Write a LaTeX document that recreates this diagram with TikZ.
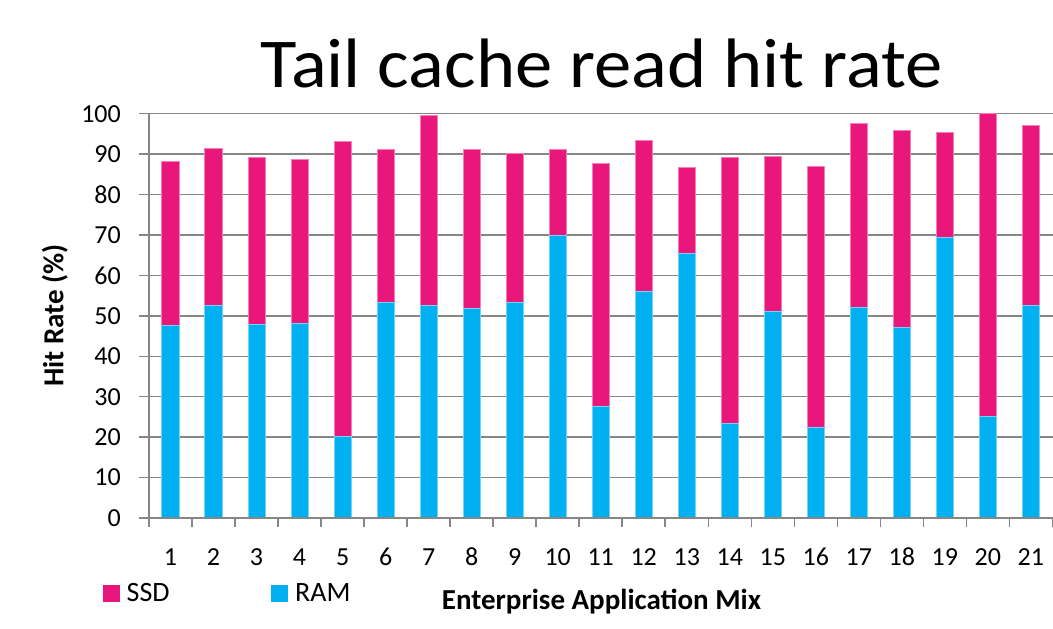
\documentclass[tikz,border=0pt]{standalone}
\usepackage{fontspec}
\setmainfont{Carlito}
\definecolor{ssd}{RGB}{233,23,123}
\definecolor{ram}{RGB}{0,176,240}
\definecolor{gridgray}{RGB}{134,134,134}
\begin{document}
\begin{tikzpicture}[x=1pt,y=-1pt,
  gridline/.style={draw=gridgray,line width=1.5pt},
  axisline/.style={draw=gridgray,line width=1.5pt},
  ssdbar/.style={fill=ssd,draw=ssd!55!white,line width=0.7pt},
  rambar/.style={fill=ram,draw=ram!55!white,line width=0.7pt},
  ticklabel/.style={inner sep=0pt,font=\fontsize{26}{30}\selectfont},
  legendtext/.style={inner sep=0pt,anchor=base west,font=\fontsize{28}{32}\selectfont},
  axistitle/.style={inner sep=0pt,anchor=base,font=\fontsize{29}{34}\selectfont\bfseries}]
\useasboundingbox (0,0) rectangle (1053,629);

% plot geometry: value v sits at y = 518 - 4.043 v, category width 43.02
\def\yof#1{518-4.043*(#1)}

% horizontal gridlines and value labels
\foreach \v in {0,10,...,100}{
  \draw[gridline] (139,{\yof{\v}}) -- (1053,{\yof{\v}});
  \node[ticklabel,anchor=east] (ylab\v) at (121,{\yof{\v}}) {\v};
}

% stacked bars: RAM part below, SSD part above
\foreach \i/\r/\t in {1/47.7/88.3,2/52.6/91.4,3/48.0/89.3,4/48.2/88.6,5/20.1/93.2,
  6/53.3/91.3,7/52.6/99.5,8/51.9/91.2,9/53.3/90.3,10/69.9/91.1,11/27.5/87.7,
  12/56.1/93.4,13/65.5/86.7,14/23.5/89.3,15/51.0/89.5,16/22.3/87.1,17/52.2/97.6,
  18/47.2/95.9,19/69.3/95.5,20/25.2/100,21/52.6/97.0}{
  \pgfmathsetmacro\cx{149+43.02*(\i-0.5)}
  \filldraw[ssdbar] ({\cx-8.7},{\yof{\t}}) rectangle ({\cx+8.7},{\yof{\r}});
  \filldraw[rambar] ({\cx-8.7},{\yof{\r}}) rectangle ({\cx+8.7},518);
  \node[ticklabel,anchor=base] (xlab\i) at (\cx,565) {\i};
}

% axes and tick marks
\draw[axisline] (149,113.7) -- (149,518);
\draw[axisline] (139,518) -- (1053,518);
\foreach \k in {0,...,21}{
  \draw[axisline] ({149+43.02*\k},518) -- ({149+43.02*\k},527);
}

% title and axis titles
\node[inner sep=0pt,anchor=base,font=\fontsize{70}{84}\selectfont] (title) at (601.5,87.7) {\scalebox{1.066}[1]{Tail cache read hit rate}};
\node[axistitle,rotate=90] (ytitle) at (63.3,315.5) {Hit Rate (\%)};
\node[axistitle] (xtitle) at (601.5,609.3) {Enterprise Application Mix};

% legend
\fill[ssd] (102.7,585) rectangle (120,601.7);
\node[legendtext] (lssd) at (126.5,601.5) {SSD};
\fill[ram] (271,585) rectangle (288,601.7);
\node[legendtext] (lram) at (295,601.5) {RAM};
\end{tikzpicture}
\end{document}
